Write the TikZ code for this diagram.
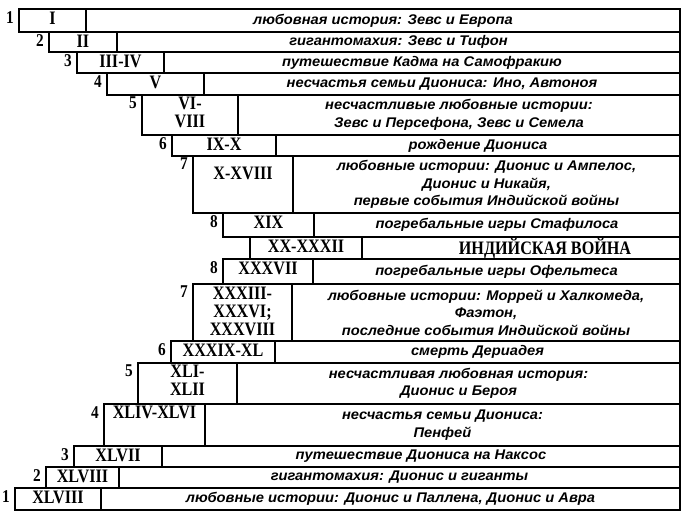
\documentclass[tikz,border=0pt]{standalone}
\usepackage{fontspec}
\setmainfont{Liberation Serif}
\newfontfamily\romanfont{Liberation Serif}[FakeStretch=0.85]
\newfontfamily\storyfont{Liberation Sans}[FakeStretch=1.05]
\begin{document}
\begin{tikzpicture}[x=1pt,y=-1pt,
    cell/.style={draw,line width=1.3pt,inner sep=0pt,outer sep=0pt,anchor=north west},
    roman/.style={anchor=north,inner sep=0pt,align=center,
      font=\romanfont\fontsize{19}{18}\selectfont\bfseries},
    story/.style={align=center,inner sep=0pt,
      font=\storyfont\fontsize{14}{17.5}\selectfont\bfseries\itshape},
    rownum/.style={anchor=north east,inner sep=0pt,
      font=\romanfont\fontsize{18}{18}\selectfont\bfseries}]
  \useasboundingbox (0,0) rectangle (684,516);
  \def\xr{680}

  \foreach \k/\n/\ya/\yb/\xa/\xb/\dy/\rn/\tx in {
    1/1/9/32/19/86/3/I/{любовная история: Зевс и Европа},
    2/2/32/52/49/117/3/II/{гигантомахия: Зевс и Тифон},
    3/3/52/73/77/164/3/III-IV/{путешествие Кадма на Самофракию},
    4/4/73/95/107/204/3/V/{несчастья семьи Диониса: Ино, Автоноя},
    5/5/95/135/142/238/2/{VI-\\VIII}/{несчастливые любовные истории:\\Зевс и Персефона, Зевс и Семела},
    6/6/135/156/172/276/3/IX-X/{рождение Диониса},
    7/7/156/213/193/293/11/X-XVIII/{любовные истории: Дионис и Ампелос,\\Дионис и Никайя,\\первые события Индийской войны},
    8/8/213/237/223/314/3/XIX/{погребальные игры Стафилоса},
    10/8/259/284/223/313/3/XXXVII/{погребальные игры Офельтеса},
    11/7/284/341/193/292/3/{XXXIII-\\XXXVI;\\XXXVIII}/{любовные истории: Моррей и Халкомеда,\\Фаэтон,\\последние события Индийской войны},
    12/6/341/363/171/275/3/XXXIX-XL/{смерть Дериадея},
    13/5/363/404/138/237/2/{XLI-\\XLII}/{несчастливая любовная история:\\Дионис и Бероя},
    14/4/404/446/104/205/2/XLIV-XLVI/{несчастья семьи Диониса:\\Пенфей},
    15/3/446/467/74/162/3/XLVII/{путешествие Диониса на Наксос},
    16/2/467/488/46/119/3/XLVIII/{гигантомахия: Дионис и гиганты},
    17/1/488/510/15/101/3/XLVIII/{любовные истории: Дионис и Паллена, Дионис и Авра}}
  {
    \node[cell,minimum width=\xb-\xa,minimum height=\yb-\ya] (r\k) at (\xa,\ya) {};
    \node[cell,minimum width=\xr-\xb,minimum height=\yb-\ya] (s\k) at (\xb,\ya) {};
    \node[roman] (rt\k) at ([yshift=-\dy pt]r\k.north) {\rn};
    \node[story] (st\k) at (s\k.center) {\tx};
    \node[rownum] (n\k) at ([xshift=-5pt,yshift=-2pt]r\k.north west) {\n};
  }

  % the war itself
  \node[cell,minimum width=112,minimum height=22] (r9) at (250,237) {};
  \node[cell,minimum width=\xr-362,minimum height=22] (s9) at (362,237) {};
  \draw[line width=2.5pt] (r9.north west) rectangle (s9.south east);
  \node[roman] (rt9) at ([yshift=-3pt]r9.north) {XX-XXXII};
  \node[roman,anchor=center] (st9) at ([xshift=24pt]s9.center) {ИНДИЙСКАЯ ВОЙНА};
\end{tikzpicture}
\end{document}
